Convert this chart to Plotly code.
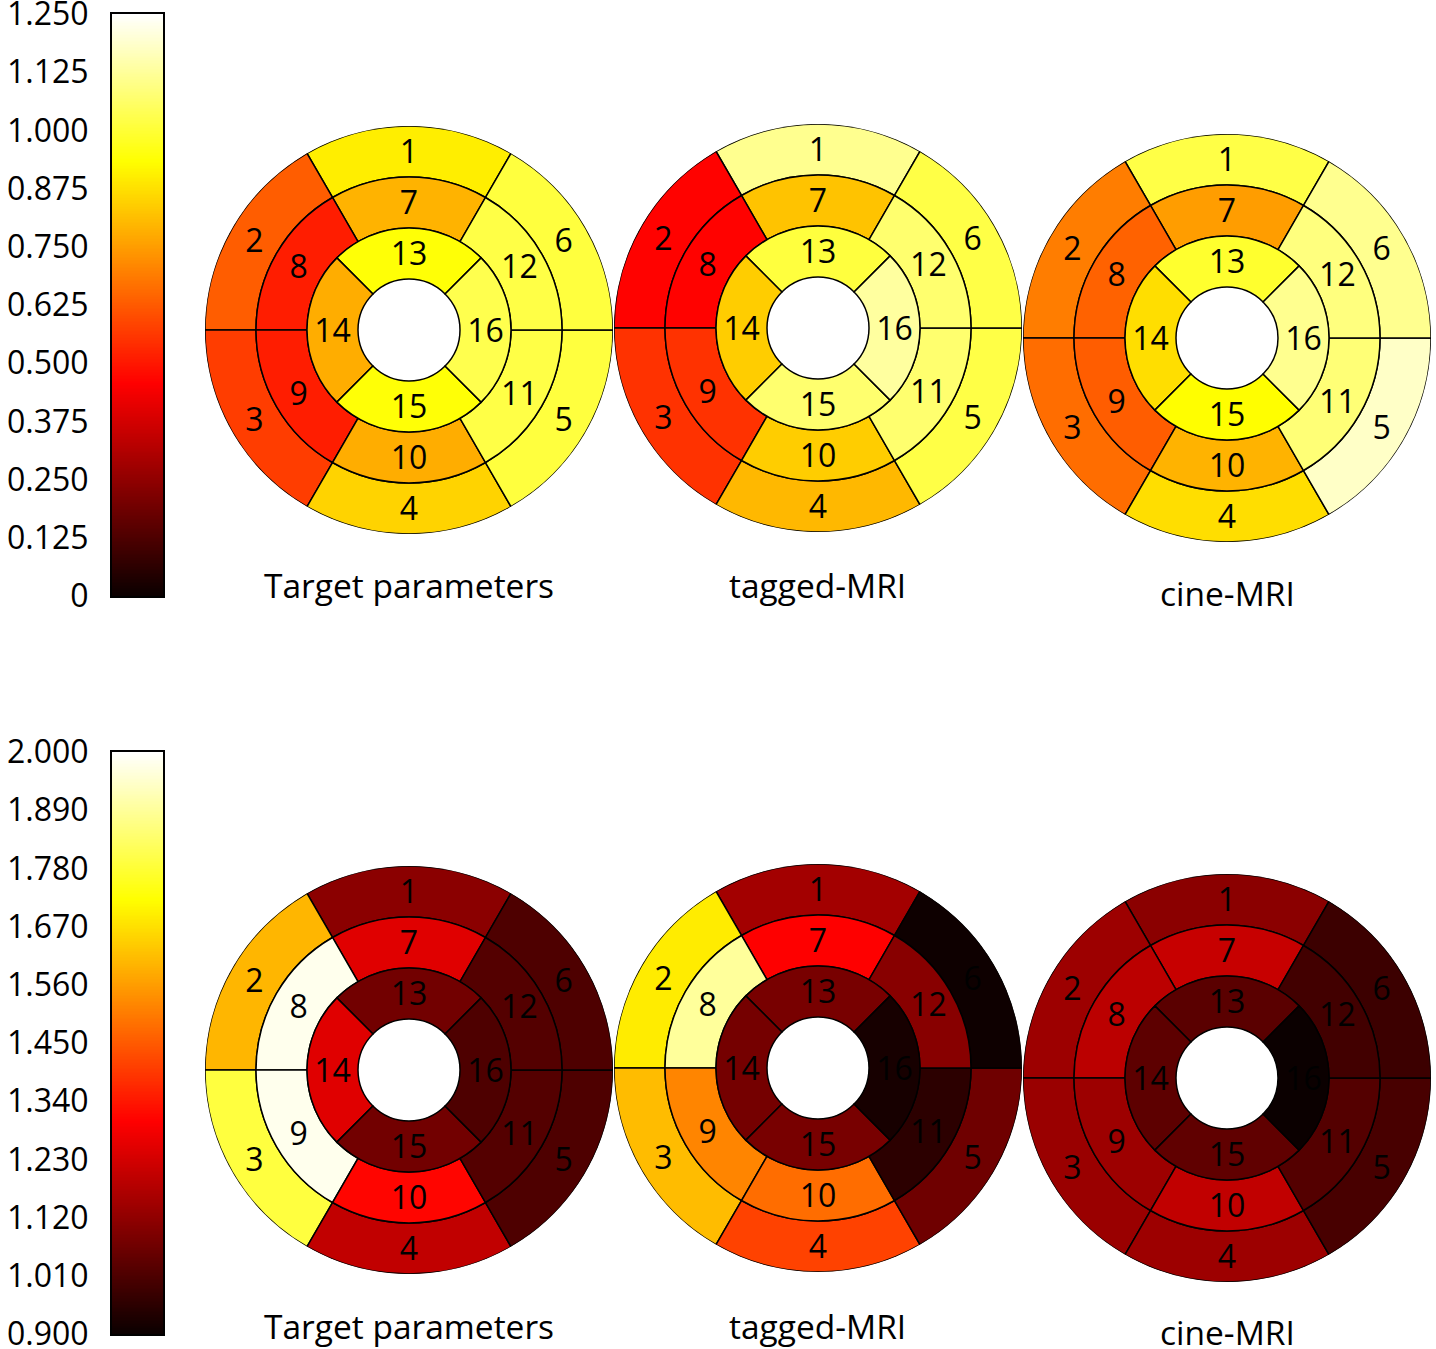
import numpy as np
import plotly.graph_objects as go

W, H = 1436, 1349

# ---------------- data ----------------
segments = [str(i) for i in range(1, 17)]

top_target = [0.90, 0.63, 0.57, 0.85, 1.01, 1.01, 0.79, 0.51, 0.51, 0.78, 1.02, 1.02, 0.94, 0.78, 0.94, 1.03]
top_tagged = [1.11, 0.46, 0.55, 0.80, 1.02, 1.02, 0.82, 0.46, 0.55, 0.84, 1.07, 1.07, 1.01, 0.84, 1.07, 1.13]
top_cine = [1.02, 0.69, 0.66, 0.87, 1.18, 1.11, 0.75, 0.64, 0.63, 0.79, 1.08, 1.09, 0.99, 0.87, 0.93, 1.11]

bot_target = [1.11, 1.60, 1.79, 1.20, 1.01, 1.01, 1.25, 1.98, 1.98, 1.31, 1.02, 1.02, 1.07, 1.25, 1.07, 1.01]
bot_tagged = [1.15, 1.69, 1.61, 1.41, 1.065, 0.905, 1.30, 1.89, 1.52, 1.48, 0.955, 1.105, 1.08, 1.075, 1.08, 0.92]
bot_cine = [1.11, 1.14, 1.135, 1.14, 1.00, 0.98, 1.21, 1.19, 1.14, 1.20, 1.02, 0.99, 1.03, 1.035, 1.04, 0.90]

titles = ["Target parameters", "tagged-MRI", "cine-MRI"]

top_range = (0.0, 1.25)
top_ticks = [0, 0.125, 0.25, 0.375, 0.5, 0.625, 0.75, 0.875, 1.0, 1.125, 1.25]
top_ticktext = ["0", "0.125", "0.250", "0.375", "0.500", "0.625", "0.750", "0.875", "1.000", "1.125", "1.250"]

bot_range = (0.9, 2.0)
bot_ticks = [0.9, 1.01, 1.12, 1.23, 1.34, 1.45, 1.56, 1.67, 1.78, 1.89, 2.0]
bot_ticktext = ["0.900", "1.010", "1.120", "1.230", "1.340", "1.450", "1.560", "1.670", "1.780", "1.890", "2.000"]

# matplotlib "hot" colormap (piecewise linear)
hot = [[0.0, "rgb(11,0,0)"], [0.365079, "rgb(255,0,0)"],
       [0.746032, "rgb(255,255,0)"], [1.0, "rgb(255,255,255)"]]

# ---------------- layout helpers ----------------
FONT = "Open Sans"
R_PX = 204
LABEL_DROP = 0.07   # small downward nudge of segment labels (in ring units)


def seg_geometry(idx):
    """ring base radius and angle centre/width for AHA 16-segment model"""
    if idx < 6:       # basal, outer ring
        return 3, 90 + 60 * idx, 60
    if idx < 12:      # mid ring
        return 2, 90 + 60 * (idx - 6), 60
    return 1, 90 + 90 * (idx - 12), 90   # apical


def polar_domain(cx, cy, r=R_PX):
    return dict(x=[(cx - r) / W, (cx + r) / W], y=[1 - (cy + r) / H, 1 - (cy - r) / H])


def label_pos(b, t):
    rr = b + 0.5
    x = rr * np.cos(np.radians(t))
    y = rr * np.sin(np.radians(t)) - LABEL_DROP
    return float(np.hypot(x, y)), float(np.degrees(np.arctan2(y, x)))


fig = go.Figure()

panels = [
    (top_target, top_range, (409, 330), (409, 585)),
    (top_tagged, top_range, (818, 328), (818, 585)),
    (top_cine, top_range, (1227, 338), (1227, 593)),
    (bot_target, bot_range, (409, 1070), (409, 1326)),
    (bot_tagged, bot_range, (818, 1068), (818, 1326)),
    (bot_cine, bot_range, (1227, 1078), (1227, 1332)),
]

annotations = []
for k, (vals, rng, (cx, cy), (tx, ty)) in enumerate(panels):
    pname = "polar" if k == 0 else f"polar{k+1}"
    bases, thetas, widths = [], [], []
    for i in range(16):
        b, t, w = seg_geometry(i)
        bases.append(b)
        thetas.append(t)
        widths.append(w)
    fig.add_trace(go.Barpolar(
        r=[1] * 16, base=bases, theta=thetas, width=widths,
        marker=dict(color=vals, colorscale=hot, cmin=rng[0], cmax=rng[1],
                    line=dict(color="black", width=1.5), showscale=False),
        subplot=pname, showlegend=False, hoverinfo="skip"))
    lp = [label_pos(b, t) for b, t in zip(bases, thetas)]
    fig.add_trace(go.Scatterpolar(
        r=[p[0] for p in lp], theta=[p[1] for p in lp], mode="text", text=segments,
        textfont=dict(family=FONT, size=32, color="black"),
        subplot=pname, showlegend=False, hoverinfo="skip"))
    fig.update_layout(**{pname: dict(
        domain=polar_domain(cx, cy),
        bgcolor="rgba(0,0,0,0)",
        radialaxis=dict(range=[0, 4], visible=False, showgrid=False),
        angularaxis=dict(visible=False, showgrid=False, rotation=0, direction="counterclockwise"),
        barmode="overlay",
    )})
    annotations.append(dict(
        text=titles[k % 3], x=tx / W, y=1 - ty / H, xref="paper", yref="paper",
        showarrow=False, xanchor="center", yanchor="middle",
        font=dict(family=FONT, size=33.5, color="black")))

# ---------------- colorbars as heatmaps ----------------
cb_x = [112 / W, 163 / W]
cbars = [
    (top_range, top_ticks, top_ticktext, (14, 596), "x", "y"),
    (bot_range, bot_ticks, bot_ticktext, (752, 1334), "x2", "y2"),
]
for j, (rng, tv, tt, (y0, y1), xa, ya) in enumerate(cbars):
    yy = np.linspace(rng[0], rng[1], 400)
    fig.add_trace(go.Heatmap(
        z=[[v] for v in yy], y=yy, x=[0], colorscale=hot, zmin=rng[0], zmax=rng[1],
        showscale=False, xaxis=xa, yaxis=ya, hoverinfo="skip"))
    suffix = "" if j == 0 else "2"
    fig.update_layout(**{
        f"xaxis{suffix}": dict(domain=cb_x, anchor=ya, range=[-0.5, 0.5], showticklabels=False,
                               ticks="", showgrid=False, zeroline=False, showline=True,
                               mirror=True, linecolor="black", linewidth=2, automargin=False),
        f"yaxis{suffix}": dict(domain=[1 - y1 / H, 1 - y0 / H], anchor=xa, range=list(rng),
                               tickvals=tv, ticktext=tt, ticks="", showgrid=False,
                               zeroline=False, showline=True, mirror=True, linecolor="black",
                               linewidth=2, ticklabelstandoff=15, automargin=False,
                               ticklabeloverflow="allow",
                               tickfont=dict(family=FONT, size=32, color="black")),
    })

fig.update_layout(
    width=W, height=H, margin=dict(l=0, r=0, t=0, b=0, autoexpand=False),
    paper_bgcolor="white", plot_bgcolor="white",
    annotations=annotations, showlegend=False,
)

fig.write_html("out.html", config={"displayModeBar": False},
               post_script="document.body.style.margin='0';document.body.style.overflow='hidden';")
